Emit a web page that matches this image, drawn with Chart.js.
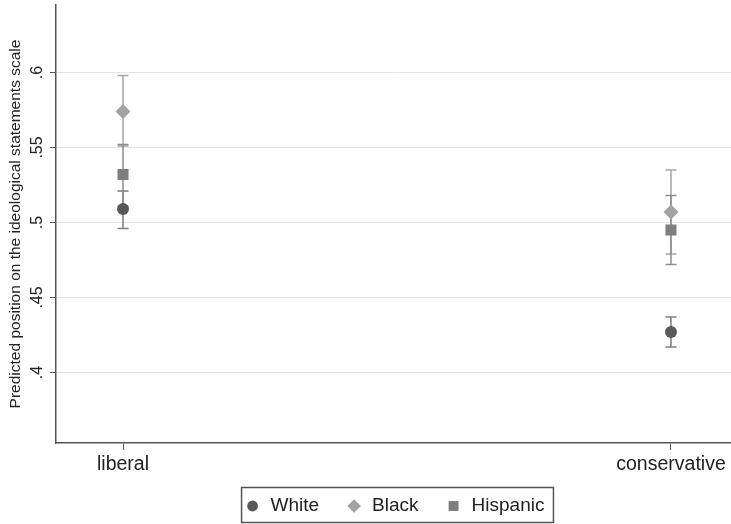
<!DOCTYPE html>
<html lang="en">
<head>
<meta charset="utf-8">
<title>Predicted ideological position</title>
<script src="https://cdn.jsdelivr.net/npm/chart.js"></script>
<style>
  body { margin: 0; background: #fff; }
  #chart { display: block; }
</style>
</head>
<body>
<canvas id="chart" width="731" height="524"></canvas>
<script>
// values
const groups = ['liberal', 'conservative'];
const white = [0.509, 0.427];
const whiteLo = [0.496, 0.417];
const whiteHi = [0.521, 0.437];
const black = [0.574, 0.507];
const blackLo = [0.551, 0.479];
const blackHi = [0.598, 0.535];
const hispanic = [0.532, 0.495];
const hispanicLo = [0.511, 0.472];
const hispanicHi = [0.552, 0.518];
const yTicks = [0.4, 0.45, 0.5, 0.55, 0.6];
const yTitle = 'Predicted position on the ideological statements scale';

const FONT = '"Liberation Sans", Arial, sans-serif';

function points(mid, lo, hi) {
    return groups.map((g, i) => ({ x: i, y: mid[i], lo: lo[i], hi: hi[i] }));
}
function fmt(v) {
    return String(v).replace(/^0/, '');
}

// caps + vertical lines, drawn under the markers
const errorBars = {
    id: 'errorBars',
    beforeDatasetsDraw(chart) {
        const ctx = chart.ctx, xs = chart.scales.x, ys = chart.scales.y;
        chart.data.datasets.forEach(ds => {
            ctx.save();
            ctx.strokeStyle = ds.errorColor;
            ctx.lineWidth = 1.5;
            ds.data.forEach(p => {
                const px = xs.getPixelForValue(p.x);
                const top = ys.getPixelForValue(p.hi);
                const bot = ys.getPixelForValue(p.lo);
                ctx.beginPath();
                ctx.moveTo(px, top); ctx.lineTo(px, bot);
                ctx.moveTo(px - 5.5, top); ctx.lineTo(px + 5.5, top);
                ctx.moveTo(px - 5.5, bot); ctx.lineTo(px + 5.5, bot);
                ctx.stroke();
            });
            ctx.restore();
        });
    }
};

// stata style: rotated y tick labels and title
const yLabels = {
    id: 'yLabels',
    afterDraw(chart) {
        const ctx = chart.ctx, ys = chart.scales.y;
        ctx.save();
        ctx.fillStyle = '#222';
        ctx.textAlign = 'center';
        ctx.textBaseline = 'middle';
        ctx.font = '16px ' + FONT;
        ys.ticks.forEach(t => {
            ctx.save();
            ctx.translate(ys.right - 18, ys.getPixelForValue(t.value));
            ctx.rotate(-Math.PI / 2);
            ctx.fillText(fmt(t.value), 0, 0);
            ctx.restore();
        });
        ctx.font = '15.5px ' + FONT;
        ctx.translate(16, (ys.top + ys.bottom) / 2);
        ctx.rotate(-Math.PI / 2);
        ctx.fillText(yTitle, 0, 0);
        ctx.restore();
    }
};

// legend inside a box, under the x axis
const boxLegend = {
    id: 'boxLegend',
    afterDraw(chart) {
        const ctx = chart.ctx, area = chart.chartArea;
        const sets = chart.data.datasets;
        ctx.save();
        ctx.font = '19px ' + FONT;
        const widths = sets.map(d => ctx.measureText(d.label).width);
        const padL = 11, markGap = 18, itemGap = 35, padR = 9;
        const total = padL + widths.reduce((a, w) => a + markGap + w, 0) + itemGap * (widths.length - 1) + padR;
        const left = (area.left + area.right) / 2 - total / 2 + 4;
        const top = area.bottom + 44.5, h = 35, cy = top + h / 2 + 1;
        ctx.strokeStyle = '#555';
        ctx.lineWidth = 1.5;
        ctx.strokeRect(left, top, total, h);
        let x = left + padL;
        ctx.textBaseline = 'middle';
        sets.forEach((d, i) => {
            ctx.fillStyle = d.backgroundColor;
            Chart.helpers.drawPoint(ctx, { pointStyle: d.pointStyle, radius: d.pointRadius * 0.9, rotation: 0, borderWidth: 0 }, x, cy);
            ctx.fillStyle = '#222';
            ctx.fillText(d.label, x + markGap, cy);
            x += markGap + widths[i] + itemGap;
        });
        ctx.restore();
    }
};

new Chart(document.getElementById('chart'), {
    type: 'scatter',
    data: {
        datasets: [
            { label: 'White', data: points(white, whiteLo, whiteHi), pointStyle: 'circle', pointRadius: 6,
              backgroundColor: '#595959', borderWidth: 0, errorColor: '#7c7c7c' },
            { label: 'Black', data: points(black, blackLo, blackHi), pointStyle: 'rectRot', pointRadius: 7.5,
              backgroundColor: '#a2a2a2', borderWidth: 0, errorColor: '#a6a6a6' },
            { label: 'Hispanic', data: points(hispanic, hispanicLo, hispanicHi), pointStyle: 'rect', pointRadius: 7.8,
              backgroundColor: '#7e7e7e', borderWidth: 0, errorColor: '#8c8c8c' }
        ]
    },
    options: {
        responsive: false,
        animation: false,
        layout: { autoPadding: false, padding: { top: 5, right: 0, left: 0, bottom: 0 } },
        plugins: { legend: { display: false }, tooltip: { enabled: false } },
        scales: {
            x: {
                type: 'linear',
                min: -0.1223,
                max: 1.1095,
                afterBuildTicks: s => { s.ticks = groups.map((g, i) => ({ value: i })); },
                afterFit: s => { s.height = 81; s.paddingLeft = 0; s.paddingRight = 0; },
                ticks: { callback: (v, i) => groups[i], font: { size: 19.5, family: FONT }, color: '#222', padding: 3, maxRotation: 0 },
                grid: { drawOnChartArea: false, tickColor: '#555', tickLength: 7 },
                border: { color: '#555', width: 1.5 }
            },
            y: {
                min: 0.353,
                max: 0.645,
                afterBuildTicks: s => { s.ticks = yTicks.map(v => ({ value: v })); },
                afterFit: s => { s.width = 56; },
                ticks: { display: false },
                grid: { color: '#e4e4e4', tickColor: '#555', tickLength: 6 },
                border: { color: '#555', width: 1.5 }
            }
        }
    },
    plugins: [errorBars, yLabels, boxLegend]
});
</script>
</body>
</html>
